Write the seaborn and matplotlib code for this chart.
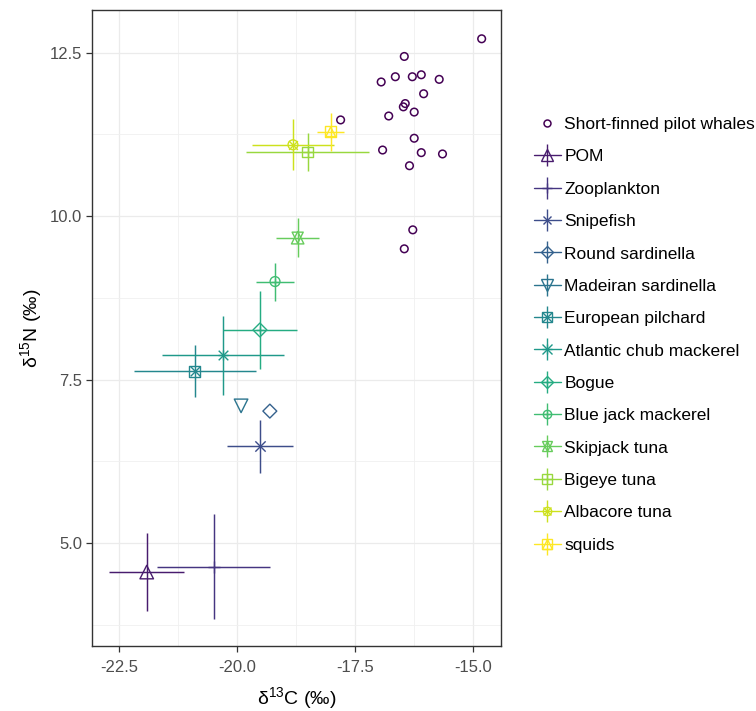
import numpy as np
import pandas as pd
import matplotlib
matplotlib.use("Agg")
import matplotlib.pyplot as plt
from matplotlib.lines import Line2D
from matplotlib.legend_handler import HandlerTuple
from matplotlib.ticker import MultipleLocator
import seaborn as sns

# Individual short-finned pilot whales (skin samples)
whale_d13c = [-14.81, -16.45, -16.94, -16.64, -16.28, -16.09, -15.71, -16.04,
              -16.43, -16.47, -16.24, -16.78, -17.80, -16.24, -16.91, -16.09,
              -15.64, -16.34, -16.27, -16.45]
whale_d15n = [12.71, 12.44, 12.05, 12.13, 12.13, 12.16, 12.09, 11.87,
              11.72, 11.67, 11.59, 11.53, 11.47, 11.19, 11.01, 10.97,
              10.95, 10.77, 9.79, 9.50]

# Potential prey sources: mean +/- SD
species = ["POM", "Zooplankton", "Snipefish", "Round sardinella",
           "Madeiran sardinella", "European pilchard", "Atlantic chub mackerel",
           "Bogue", "Blue jack mackerel", "Skipjack tuna", "Bigeye tuna",
           "Albacore tuna", "squids"]
d13c_mean = [-21.91, -20.49, -19.51, -19.30, -19.91, -20.89, -20.29,
             -19.51, -19.19, -18.71, -18.50, -18.81, -18.01]
d13c_sd = [0.80, 1.20, 0.70, 0.0, 0.0, 1.30, 1.30,
           0.78, 0.40, 0.46, 1.31, 0.86, 0.29]
d15n_mean = [4.56, 4.64, 6.48, 7.02, 7.10, 7.63, 7.87,
             8.26, 9.00, 9.67, 10.98, 11.09, 11.29]
d15n_sd = [0.60, 0.80, 0.40, 0.0, 0.0, 0.40, 0.60,
           0.60, 0.29, 0.30, 0.29, 0.39, 0.29]

whales = pd.DataFrame({"d13c": whale_d13c, "d15n": whale_d15n})
prey = pd.DataFrame({"species": species, "d13c": d13c_mean, "d13c_sd": d13c_sd,
                     "d15n": d15n_mean, "d15n_sd": d15n_sd})

whale_label = "Short-finned pilot whales"
groups = [whale_label] + species
palette = dict(zip(groups, [tuple(c) for c in plt.cm.viridis(np.linspace(0, 1, len(groups)))]))

# ggplot-like point shapes: (outline marker, overlay marker, size)
shapes = {
    "POM": ("^", None, 95),
    "Zooplankton": ("+", None, 70),
    "Snipefish": ("x", None, 55),
    "Round sardinella": ("D", None, 50),
    "Madeiran sardinella": ("v", None, 95),
    "European pilchard": ("s", "x", 60),
    "Atlantic chub mackerel": ("+", "x", 60),
    "Bogue": ("D", "+", 50),
    "Blue jack mackerel": ("o", "+", 50),
    "Skipjack tuna": ("^", "v", 80),
    "Bigeye tuna": ("s", "+", 60),
    "Albacore tuna": ("o", "x", 50),
    "squids": ("s", "^", 60),
}
LINE_MARKERS = {"+", "x"}

sns.set_theme(style="whitegrid")
plt.rcParams["font.family"] = ["Liberation Sans", "DejaVu Sans"]
plt.rcParams["axes.unicode_minus"] = False
plt.rcParams["mathtext.default"] = "regular"

fig = plt.figure(figsize=(7.56, 7.11), dpi=100)
ax = fig.add_axes([92 / 756, 65 / 711, 409 / 756, 636 / 711])
ax.set_facecolor("white")


def draw_points(sub, marker, color, size, lw=1.0):
    if marker in LINE_MARKERS:
        sns.scatterplot(data=sub, x="d13c", y="d15n", marker=marker, color=color,
                        s=size, linewidth=lw, legend=False, ax=ax, zorder=4)
    else:
        sns.scatterplot(data=sub, x="d13c", y="d15n", marker=marker, color=color,
                        facecolor="none", edgecolor=color, s=size, linewidth=lw,
                        legend=False, ax=ax, zorder=4)


# whales
draw_points(whales, "o", palette[whale_label], 30, lw=1.1)

# prey: error bars then symbols
for _, row in prey.iterrows():
    c = palette[row["species"]]
    if row["d13c_sd"] > 0 or row["d15n_sd"] > 0:
        ax.errorbar(row["d13c"], row["d15n"], xerr=row["d13c_sd"], yerr=row["d15n_sd"],
                    fmt="none", ecolor=c, elinewidth=1.05, capsize=0, zorder=3)
    m1, m2, s = shapes[row["species"]]
    sub = prey[prey["species"] == row["species"]]
    draw_points(sub, m1, c, s)
    if m2 is not None:
        draw_points(sub, m2, c, s * 0.8)

ax.set_xlim(-23.07, -14.40)
ax.set_ylim(3.43, 13.15)
ax.xaxis.set_major_locator(MultipleLocator(2.5))
ax.yaxis.set_major_locator(MultipleLocator(2.5))
ax.xaxis.set_minor_locator(MultipleLocator(1.25))
ax.yaxis.set_minor_locator(MultipleLocator(1.25))
ax.xaxis.set_major_formatter(matplotlib.ticker.FormatStrFormatter("%.1f"))
ax.yaxis.set_major_formatter(matplotlib.ticker.FormatStrFormatter("%.1f"))
ax.grid(which="major", color="#EBEBEB", linewidth=0.9)
ax.grid(which="minor", color="#F0F0F0", linewidth=0.6)
ax.set_axisbelow(True)
for sp in ax.spines.values():
    sp.set_color("#333333")
    sp.set_linewidth(1.0)
ax.tick_params(which="major", length=4, width=0.9, color="#333333",
               labelcolor="#4D4D4D", labelsize=12, pad=3, bottom=True, left=True)
ax.tick_params(axis="x", which="major", pad=6)
ax.tick_params(which="minor", length=0)

ax.set_xlabel(r"$\delta^{13}$C (‰)", fontsize=14, color="black", labelpad=7)
ax.set_ylabel(r"$\delta^{15}$N (‰)", fontsize=14, color="black", labelpad=4)

# legend: symbol with crossing error-bar key
handles = [Line2D([], [], ls="none", marker="o", ms=5.0, mfc="none",
                  mec=palette[whale_label], mew=1.1)]
labels = [whale_label]
for sp_name in species:
    c = palette[sp_name]
    m1, m2, s = shapes[sp_name]
    ms = np.sqrt(s) * 0.85
    parts = [Line2D([], [], color=c, lw=1.0),
             Line2D([], [], ls="none", marker="|", ms=16, mew=1.0, color=c)]
    for m in (m1, m2):
        if m is None:
            continue
        if m in LINE_MARKERS:
            parts.append(Line2D([], [], ls="none", marker=m, ms=ms, mew=1.0, color=c))
        else:
            parts.append(Line2D([], [], ls="none", marker=m, ms=ms, mfc="none",
                                mec=c, mew=1.0))
    handles.append(tuple(parts))
    labels.append(sp_name)

leg = ax.legend(handles, labels, handler_map={tuple: HandlerTuple(ndivide=1, pad=0)},
                loc="upper left", bbox_to_anchor=(534 / 756, 1 - 117 / 711),
                bbox_transform=fig.transFigure, frameon=False, fontsize=12.5,
                handlelength=1.55, handletextpad=0.2, labelspacing=0.99,
                borderpad=0, borderaxespad=0)
for t in leg.get_texts():
    t.set_color("black")

fig.savefig("out.png", dpi=100, facecolor="white")
